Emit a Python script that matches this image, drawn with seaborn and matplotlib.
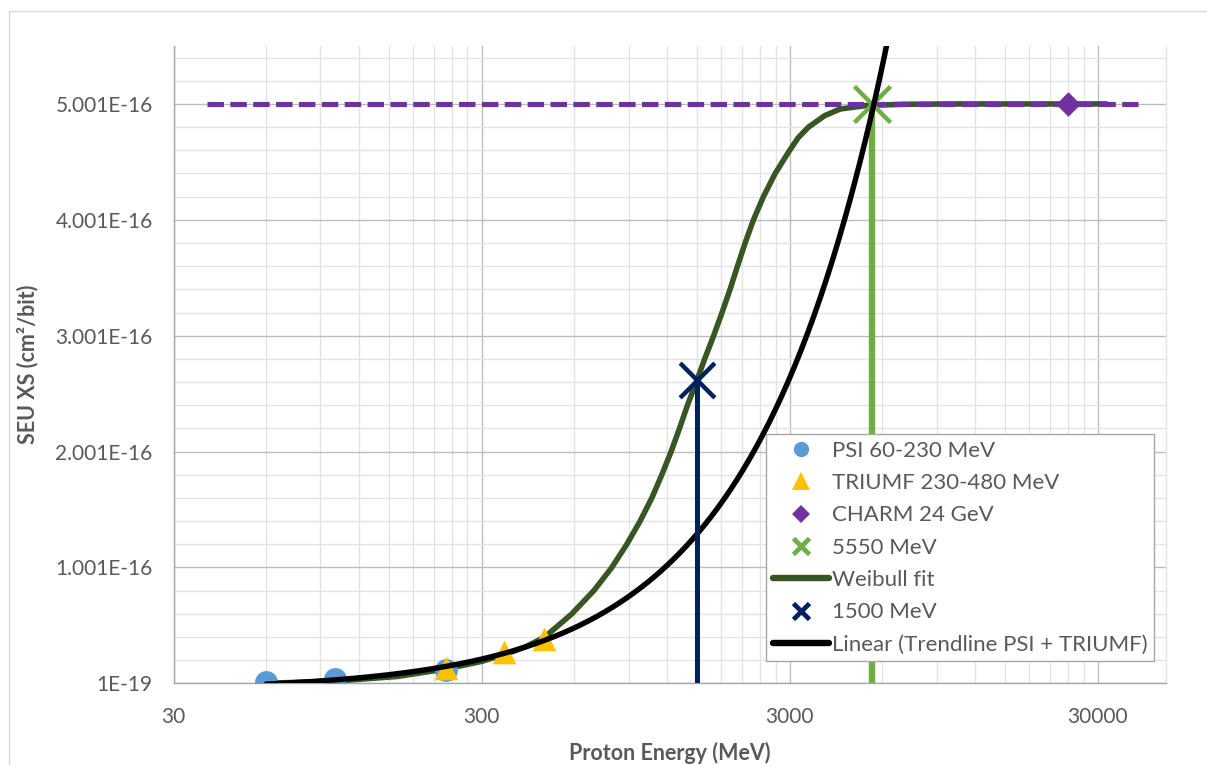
import numpy as np
import pandas as pd
import matplotlib
matplotlib.use("Agg")
import matplotlib.pyplot as plt
import seaborn as sns
from matplotlib.ticker import FixedLocator, FixedFormatter, NullFormatter
from matplotlib.lines import Line2D
from matplotlib.patches import Rectangle

# ---------------- data ----------------
psi_energy = [60, 100, 230]
psi_xs = [1.4e-18, 3.7e-18, 1.15e-17]

triumf_energy = [230, 356, 480]
triumf_xs = [1.32e-17, 2.67e-17, 3.85e-17]

charm_energy = [24000]
charm_xs = [5.001e-16]

saturation_energy = [38.5, 40500]
saturation_xs = [5.001e-16, 5.001e-16]

e5550_energy = [5550]
e5550_xs = [5.001e-16]
e5550_drop_energy = [5550, 5550]
e5550_drop_xs = [5.001e-16, 0.0]

e1500_energy = [1500]
e1500_xs = [2.615e-16]
e1500_drop_energy = [1500, 1500]
e1500_drop_xs = [2.615e-16, 0.0]

weibull_energy = [60, 100, 160, 230, 300, 362, 420, 481, 589, 694, 794, 888, 981,
                  1071, 1154, 1237, 1317, 1398, 1500, 1590, 1700, 1810, 1922, 2031,
                  2151, 2289, 2466, 2692, 3000, 3200, 3451, 3900, 4377, 5345, 7000,
                  10000, 20000, 32000]
weibull_xs_e16 = [0.001, 0.02, 0.06, 0.125, 0.19, 0.255, 0.32, 0.40, 0.60, 0.80, 1.00,
                  1.20, 1.40, 1.60, 1.80, 2.00, 2.20, 2.40, 2.615, 2.80, 3.00, 3.20,
                  3.40, 3.60, 3.80, 4.00, 4.20, 4.40, 4.60, 4.71, 4.80, 4.90, 4.957,
                  4.988, 4.998, 5.001, 5.001, 5.001]

x_ticks = [30, 300, 3000, 30000]
x_tick_labels = ["30", "300", "3000", "30000"]
y_ticks = [1e-19, 1.001e-16, 2.001e-16, 3.001e-16, 4.001e-16, 5.001e-16]
y_tick_labels = ["1E-19", "1.001E-16", "2.001E-16", "3.001E-16", "4.001E-16", "5.001E-16"]

legend_labels = ["PSI 60-230 MeV", "TRIUMF 230-480 MeV", "CHARM 24 GeV", "5550 MeV",
                 "Weibull fit", "1500 MeV", "Linear (Trendline PSI + TRIUMF)"]

# ---------------- style ----------------
sns.set_style("white")
plt.rcParams["font.family"] = ["Lato", "DejaVu Sans"]

TEXT = "#595959"
C_PSI = "#5B9BD5"
C_TRI = "#FFC000"
C_CHARM = "#7030A0"
C_5550 = "#70AD47"
C_WEIB = "#375623"
C_1500 = "#002060"

W, H = 1207, 765
fig = plt.figure(figsize=(W / 100, H / 100), dpi=100)
fig.patch.set_facecolor("white")
L, R, T, B = 173.5, 1166, 46, 683.3
ax = fig.add_axes([L / W, 1 - B / H, (R - L) / W, (B - T) / H])

# chart-area border
fig.add_artist(Rectangle((9 / W, -0.1), 1.2, 1 - 11.5 / H + 0.1, transform=fig.transFigure,
                         fill=False, edgecolor="#D9D9D9", lw=1.0, zorder=0))

ax.set_xscale("log")

# Weibull fit
weib = pd.DataFrame({"E": weibull_energy, "XS": np.array(weibull_xs_e16) * 1e-16})
sns.lineplot(data=weib, x="E", y="XS", ax=ax, color=C_WEIB, lw=4.0, estimator=None,
             sort=False, zorder=3)
ax.lines[-1].set_solid_joinstyle("round")

# saturation dashed line
sat = pd.DataFrame({"E": saturation_energy, "XS": saturation_xs})
sns.lineplot(data=sat, x="E", y="XS", ax=ax, color=C_CHARM, lw=3.7, estimator=None,
             sort=False, zorder=3.5)
ax.lines[-1].set_dashes((3.2, 1.25))
ax.lines[-1].set_dash_capstyle("butt")

# vertical drop lines
d5550 = pd.DataFrame({"E": e5550_drop_energy, "XS": e5550_drop_xs})
sns.lineplot(data=d5550, x="E", y="XS", ax=ax, color=C_5550, lw=4.6, estimator=None,
             sort=False, zorder=3.2)
d1500 = pd.DataFrame({"E": e1500_drop_energy, "XS": e1500_drop_xs})
sns.lineplot(data=d1500, x="E", y="XS", ax=ax, color=C_1500, lw=3.6, estimator=None,
             sort=False, zorder=6)

# markers
sns.scatterplot(x=psi_energy, y=psi_xs, ax=ax, color=C_PSI, marker="o", s=16.5 ** 2,
                linewidth=0, zorder=4)
sns.scatterplot(x=triumf_energy, y=triumf_xs, ax=ax, color=C_TRI, marker="^", s=17 ** 2,
                linewidth=0, zorder=4)
sns.scatterplot(x=charm_energy, y=charm_xs, ax=ax, color=C_CHARM, marker="D", s=12.5 ** 2,
                linewidth=0, zorder=4)
sns.scatterplot(x=e5550_energy, y=e5550_xs, ax=ax, color=C_5550, marker="x", s=26 ** 2,
                linewidth=3.2, zorder=4)
sns.scatterplot(x=e1500_energy, y=e1500_xs, ax=ax, color=C_1500, marker="x", s=25 ** 2,
                linewidth=3.2, zorder=6.5)

# linear trendline fitted to PSI + TRIUMF points
fit_x = np.array(psi_energy + triumf_energy, dtype=float)
fit_y = np.array(psi_xs + triumf_xs, dtype=float)
slope, intercept = np.polyfit(fit_x, fit_y, 1)
trend_e = np.geomspace(min(fit_x), 7000, 400)
trend = pd.DataFrame({"E": trend_e, "XS": slope * trend_e + intercept})
sns.lineplot(data=trend, x="E", y="XS", ax=ax, color="black", lw=3.9, estimator=None,
             sort=False, zorder=5)

# axes
ax.set_xlim(30, 50000)
ax.set_ylim(1e-19, 5.501e-16)
ax.xaxis.set_major_locator(FixedLocator(x_ticks))
ax.xaxis.set_major_formatter(FixedFormatter(x_tick_labels))
minor_x = [30 * k * 10 ** n for n in range(4) for k in range(2, 10) if 30 * k * 10 ** n < 50000]
ax.xaxis.set_minor_locator(FixedLocator(minor_x))
ax.xaxis.set_minor_formatter(NullFormatter())
ax.yaxis.set_major_locator(FixedLocator(y_ticks))
ax.yaxis.set_major_formatter(FixedFormatter(y_tick_labels))
ax.yaxis.set_minor_locator(FixedLocator(list(np.arange(1e-19, 5.6e-16, 0.2e-16))))
ax.yaxis.set_minor_formatter(NullFormatter())

ax.grid(which="major", color="#BDBDBD", lw=1.0)
ax.grid(which="minor", color="#E3E3E3", lw=1.0)
ax.set_axisbelow(True)
ax.tick_params(which="both", length=0)
ax.tick_params(axis="x", pad=17, labelsize=15, labelcolor=TEXT)
ax.tick_params(axis="y", pad=15, labelsize=15, labelcolor=TEXT)

ax.spines["top"].set_visible(False)
ax.spines["right"].set_color("#E3E3E3")
ax.spines["left"].set_color("#A6A6A6")
ax.spines["bottom"].set_color("#A6A6A6")
for s in ["left", "bottom", "right"]:
    ax.spines[s].set_linewidth(1.0)

ax.set_xlabel("Proton Energy (MeV)", fontsize=15.5, fontweight="bold", color=TEXT, labelpad=11)
ax.set_ylabel("SEU XS (cm²/bit)", fontsize=15.5, fontweight="bold", color=TEXT, labelpad=12)

# legend
handles = [
    Line2D([], [], ls="none", marker="o", ms=11, color=C_PSI, mew=0),
    Line2D([], [], ls="none", marker="^", ms=13, color=C_TRI, mew=0),
    Line2D([], [], ls="none", marker="D", ms=9.5, color=C_CHARM, mew=0),
    Line2D([], [], ls="none", marker="x", ms=11.5, color=C_5550, mew=3.4),
    Line2D([], [], color=C_WEIB, lw=4.6, solid_capstyle="round"),
    Line2D([], [], ls="none", marker="x", ms=11, color=C_1500, mew=3.4),
    Line2D([], [], color="black", lw=4.6, solid_capstyle="round"),
]
leg = fig.legend(handles, legend_labels, loc="upper left",
                 bbox_to_anchor=(766 / W, 1 - 434 / H), bbox_transform=fig.transFigure,
                 fontsize=16, frameon=True, fancybox=False, framealpha=1,
                 edgecolor="#A6A6A6", borderpad=0.3, handlelength=2.55,
                 handletextpad=0.12, labelspacing=0.555, borderaxespad=0)
leg.get_frame().set_linewidth(1.0)
for t in leg.get_texts():
    t.set_color(TEXT)

fig.savefig("out.png", dpi=100, facecolor="white")
